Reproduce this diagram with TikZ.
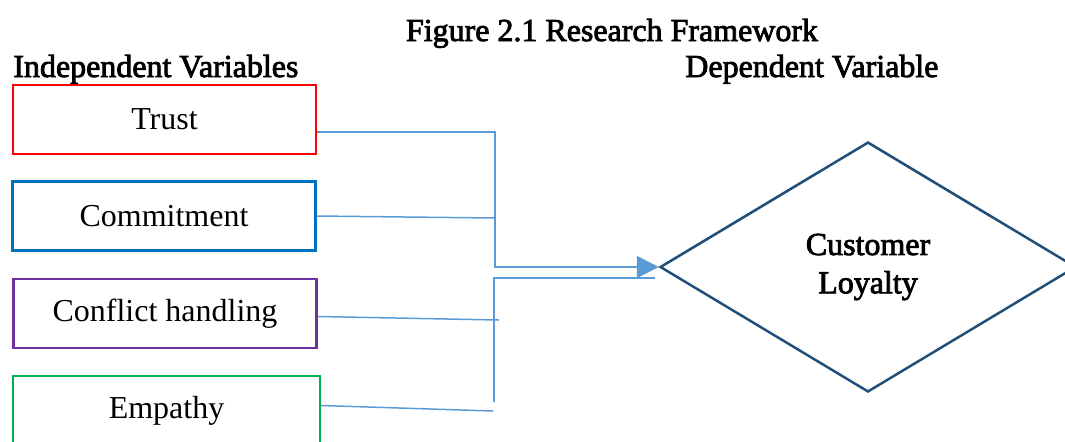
\documentclass[tikz,border=0pt]{standalone}
\usepackage{fontspec}
\setmainfont{Liberation Serif}
\newfontfamily\headfont{Liberation Serif}[FakeBold=2.5]
\usetikzlibrary{shapes.geometric,arrows.meta,calc}
\definecolor{trustred}{RGB}{255,0,0}
\definecolor{commitblue}{RGB}{0,112,192}
\definecolor{conflictpurple}{RGB}{112,48,160}
\definecolor{empathygreen}{RGB}{0,176,80}
\definecolor{linkblue}{RGB}{91,155,213}
\definecolor{loyaltyblue}{RGB}{31,78,121}

\begin{document}
\begin{tikzpicture}[x=0.02cm,y=-0.02cm,
	varbox/.style={draw=#1,line width=0.045cm,minimum width=6.06cm,minimum height=1.38cm,inner sep=0pt,font=\fontsize{18.2}{21.8}\selectfont},
	link/.style={draw=linkblue,line width=0.03cm},
	heading/.style={anchor=base west,inner sep=0pt,font=\headfont\fontsize{18.2}{21.8}\selectfont}]
	\useasboundingbox (0,0) rectangle (1065,441);
	% headings
	\node[heading,anchor=base] (title) at (612,41) {Figure 2.1 Research Framework};
	\node[heading] (indep) at (13,77) {Independent Variables};
	\node[heading] (dep) at (685,77) {Dependent Variable};
	% independent variables
	\node[varbox=trustred] (trust) at (164.5,119.5) {Trust};
	\node[varbox=commitblue] (commit) at (164,216) {Commitment};
	\node[varbox=conflictpurple] (conflict) at (165,313.5) {Conflict handling};
	\node[varbox=empathygreen,minimum width=6.14cm] (empathy) at (166.5,410.5) {Empathy};
	% dependent variable
	\node[diamond,draw=loyaltyblue,line width=0.05cm,minimum width=8.32cm,minimum height=5cm,inner sep=0pt,aspect=1.664,align=center,font=\headfont\fontsize{18.2}{21.8}\selectfont] (loyalty) at (868,267) {Customer\\Loyalty};
	% joints
	\coordinate (upper top) at (495,132);
	\coordinate (upper mid) at (495,218);
	\coordinate (lower tip) at (655,278);
	\coordinate (lower bottom) at (494,402);
	\coordinate (lower mid) at (499,320);
	\coordinate (lower end) at (493,411);
	% links
	\draw[link,-{Triangle[length=0.44cm,width=0.44cm]}] (trust.east |- upper top) -- (upper top) |- (loyalty.west);
	\draw[link] (commit.east) -- (upper mid);
	\draw[link] (lower tip) -| (lower bottom);
	\draw[link] ([yshift=-0.06cm]conflict.east) -- (lower mid);
	\draw[link] ([yshift=0.1cm]empathy.east) -- (lower end);
\end{tikzpicture}
\end{document}
